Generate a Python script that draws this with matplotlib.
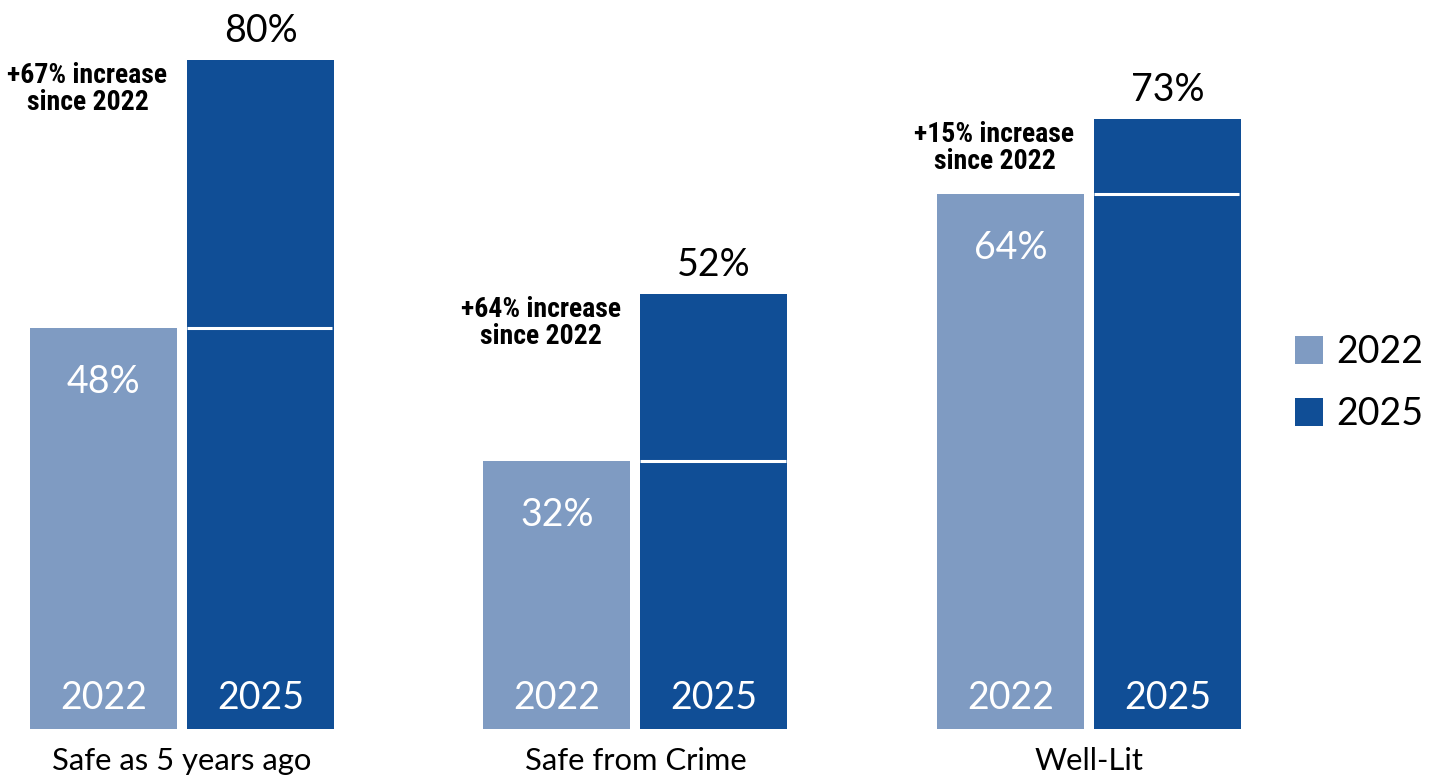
import matplotlib
matplotlib.use("Agg")
import matplotlib.pyplot as plt
from matplotlib import font_manager
import numpy as np

# Survey results: share of respondents agreeing, by year
categories = ["Safe as 5 years ago", "Safe from Crime", "Well-Lit"]
values_2022 = [48, 32, 64]
values_2025 = [80, 52, 73]
increase_labels = ["+67% increase\nsince 2022", "+64% increase\nsince 2022", "+15% increase\nsince 2022"]
series_labels = ["2022", "2025"]

COLOR_2022 = "#7f9bc2"
COLOR_2025 = "#104e96"

MAIN_FONT = ["Lato", "DejaVu Sans"]

# Pick a narrow heavy face for the callouts if one is installed
installed = {f.name for f in font_manager.fontManager.ttflist}
narrow_choices = ["Liberation Sans Narrow", "Roboto Condensed", "DejaVu Sans Condensed",
                  "Open Sans Condensed"]
callout_family = next((n for n in narrow_choices if n in installed), None)
if callout_family is None:
    callout_family, callout_size, callout_stretch = "DejaVu Sans", 14, "normal"
else:
    callout_size, callout_stretch = 20, "condensed"

DPI = 100
fig = plt.figure(figsize=(14.45, 7.76), dpi=DPI)
ax = fig.add_axes([0, 0, 1, 1])

# Axis scaling in pixels: group spacing and value scale
px_per_group = 453.5
px_per_pct = 8.3625
ax.set_xlim(-182 / px_per_group, (1445 - 182) / px_per_group)
ax.set_ylim(-47 / px_per_pct, 729 / px_per_pct)
ax.axis("off")

x = np.arange(len(categories))
offset = 78.5 / px_per_group
width = 147 / px_per_group

bars_a = ax.bar(x - offset, values_2022, width, color=COLOR_2022, label=series_labels[0])
bars_b = ax.bar(x + offset, values_2025, width, color=COLOR_2025, label=series_labels[1])

pt = 72 / DPI  # points per pixel

for i in range(len(categories)):
    xa, xb = x[i] - offset, x[i] + offset
    va_, vb_ = values_2022[i], values_2025[i]

    # white marker on the 2025 bar at the 2022 level
    ax.hlines(va_, xb - width / 2, xb + width / 2 - 2 / px_per_group, color="white", lw=2.2)

    # value labels
    ax.annotate(f"{va_}%", (xa, va_), xytext=(0, -65 * pt), textcoords="offset points",
                ha="center", va="baseline", color="white", fontsize=27, family=MAIN_FONT)
    ax.annotate(f"{vb_}%", (xb, vb_), xytext=(0, 18 * pt), textcoords="offset points",
                ha="center", va="baseline", color="black", fontsize=27, family=MAIN_FONT)

    # year labels inside bars
    for xx, lab in ((xa, series_labels[0]), (xb, series_labels[1])):
        ax.annotate(lab, (xx, 0), xytext=(0, 20 * pt), textcoords="offset points",
                    ha="center", va="baseline", color="white", fontsize=27, family=MAIN_FONT)

    # category labels
    ax.annotate(categories[i], (x[i], 0), xytext=(0, -41 * pt), textcoords="offset points",
                ha="center", va="baseline", color="black", fontsize=22.3, family=MAIN_FONT)

    # increase callout
    ax.annotate(increase_labels[i], (xa, vb_), xytext=(-16 * pt, -2 * pt),
                textcoords="offset points", ha="center", va="top", multialignment="center",
                color="black", fontsize=callout_size, fontweight="heavy",
                family=callout_family, fontstretch=callout_stretch, linespacing=1.0)

leg = fig.legend(handles=[bars_a, bars_b], labels=series_labels, loc="center left",
                 bbox_to_anchor=(1295 / 1445, 1 - 383 / 776), frameon=False,
                 borderpad=0, borderaxespad=0,
                 prop={"family": MAIN_FONT, "size": 27}, handlelength=0.75,
                 handleheight=0.75, handletextpad=0.35, labelspacing=0.7)

fig.savefig("out.png", dpi=DPI, facecolor="white")
